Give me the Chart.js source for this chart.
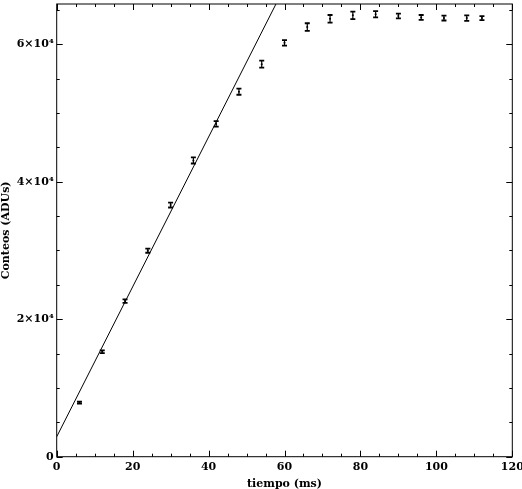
<!DOCTYPE html>
<html>
<head>
<meta charset="utf-8">
<script src="https://cdn.jsdelivr.net/npm/chart.js@4/dist/chart.umd.min.js"></script>
<style>
  body { margin: 0; background: #fff; }
  #wrap { width: 522px; height: 489px; }
</style>
</head>
<body>
<div id="wrap"><canvas id="grafico" width="522" height="489"></canvas></div>
<script>
// Datos medidos: tiempo de exposición (ms) y conteos (ADUs)
const tiempos = [6, 12, 18, 24, 30, 36, 42, 48, 54, 60, 66, 72, 78, 84, 90, 96, 102, 108, 112];
const conteos = [7860, 15270, 22640, 29970, 36600, 43100, 48400, 53100, 57100, 60200,
                 62500, 63700, 64200, 64350, 64100, 63900, 63800, 63800, 63800];
const errores = [150, 200, 250, 300, 350, 450, 400, 450, 500, 400,
                 550, 550, 550, 450, 350, 350, 350, 400, 300];

// Ajuste lineal (dos extremos, se recorta en el borde del gráfico)
const ajusteX = [0, 62];
const ajusteY = [2900, 70480];

// Ejes
const xMarcas = [0, 20, 40, 60, 80, 100, 120];
const xEtiquetas = ['0', '20', '40', '60', '80', '100', '120'];
const xMenor = 5;
const yMarcas = [0, 20000, 40000, 60000];
const yEtiquetas = ['0', '2\u00d710\u2074', '4\u00d710\u2074', '6\u00d710\u2074'];
const yMenor = 5000;
const xMax = 120;
const yMax = 65850;

const fuente = { family: '"DejaVu Serif", serif', size: 11, weight: 'bold' };

// Barras de error
const barrasError = {
    id: 'barrasError',
    afterDatasetsDraw(chart) {
        const ctx = chart.ctx;
        const sx = chart.scales.x, sy = chart.scales.y;
        ctx.save();
        ctx.strokeStyle = '#000';
        tiempos.forEach((t, i) => {
            const px = sx.getPixelForValue(t);
            const top = sy.getPixelForValue(conteos[i] + errores[i]);
            const bot = sy.getPixelForValue(conteos[i] - errores[i]);
            ctx.lineWidth = 1.2;
            ctx.beginPath();
            ctx.moveTo(px, top);
            ctx.lineTo(px, bot);
            ctx.stroke();
            ctx.lineWidth = 1.8;
            ctx.beginPath();
            ctx.moveTo(px - 2.5, top);
            ctx.lineTo(px + 2.5, top);
            ctx.moveTo(px - 2.5, bot);
            ctx.lineTo(px + 2.5, bot);
            ctx.stroke();
        });
        ctx.restore();
    }
};

// Marco y marcas hacia adentro en los cuatro lados
const marco = {
    id: 'marco',
    afterDraw(chart) {
        const ctx = chart.ctx;
        const a = chart.chartArea;
        const sx = chart.scales.x, sy = chart.scales.y;
        ctx.save();
        ctx.strokeStyle = '#000';
        ctx.lineWidth = 1;
        ctx.strokeRect(a.left, a.top, a.right - a.left, a.bottom - a.top);
        ctx.beginPath();
        for (let v = 0; v <= xMax; v += xMenor) {
            const px = Math.round(sx.getPixelForValue(v)) + 0.5;
            const len = xMarcas.includes(v) ? 6 : 3;
            ctx.moveTo(px, a.bottom); ctx.lineTo(px, a.bottom - len);
            ctx.moveTo(px, a.top); ctx.lineTo(px, a.top + len);
        }
        for (let v = 0; v <= yMax; v += yMenor) {
            const py = Math.round(sy.getPixelForValue(v)) + 0.5;
            const len = yMarcas.includes(v) ? 6 : 3;
            ctx.moveTo(a.left, py); ctx.lineTo(a.left + len, py);
            ctx.moveTo(a.right, py); ctx.lineTo(a.right - len, py);
        }
        ctx.stroke();
        ctx.restore();
    }
};

new Chart(document.getElementById('grafico'), {
    type: 'scatter',
    data: {
        datasets: [
            {
                label: 'medidas',
                data: tiempos.map((t, i) => ({ x: t, y: conteos[i] })),
                pointRadius: 1,
                pointBackgroundColor: '#000',
                pointBorderColor: '#000',
                pointBorderWidth: 0
            },
            {
                type: 'line',
                label: 'ajuste',
                data: ajusteX.map((t, i) => ({ x: t, y: ajusteY[i] })),
                borderColor: '#000',
                borderWidth: 1,
                pointRadius: 0,
                fill: false
            }
        ]
    },
    options: {
        responsive: false,
        animation: false,
        devicePixelRatio: 1,
        layout: { padding: { top: 1, right: 9.7, left: 0, bottom: 0 } },
        plugins: {
            legend: { display: false },
            tooltip: { enabled: false }
        },
        scales: {
            x: {
                type: 'linear',
                min: 0,
                max: xMax,
                afterBuildTicks: s => { s.ticks = xMarcas.map(v => ({ value: v })); },
                afterFit: s => { s.height = 32.3; s.paddingLeft = 0; s.paddingRight = 0; },
                grid: { display: false, drawTicks: false },
                border: { display: false },
                ticks: {
                    color: '#000',
                    font: fuente,
                    padding: 4,
                    maxRotation: 0,
                    callback: (v) => xEtiquetas[xMarcas.indexOf(v)]
                },
                title: {
                    display: true,
                    text: 'tiempo (ms)',
                    color: '#000',
                    font: fuente,
                    padding: { top: 0, bottom: -2 }
                }
            },
            y: {
                type: 'linear',
                min: 0,
                max: yMax,
                afterBuildTicks: s => { s.ticks = yMarcas.map(v => ({ value: v })); },
                afterFit: s => { s.width = 56.7; s.paddingTop = 0; s.paddingBottom = 0; },
                grid: { display: false, drawTicks: false },
                border: { display: false },
                ticks: {
                    color: '#000',
                    font: fuente,
                    padding: 3,
                    callback: (v) => yEtiquetas[yMarcas.indexOf(v)]
                },
                title: {
                    display: true,
                    text: 'Conteos (ADUs)',
                    color: '#000',
                    font: fuente,
                    padding: { top: 0, bottom: 0 }
                }
            }
        }
    },
    plugins: [barrasError, marco]
});
</script>
</body>
</html>
